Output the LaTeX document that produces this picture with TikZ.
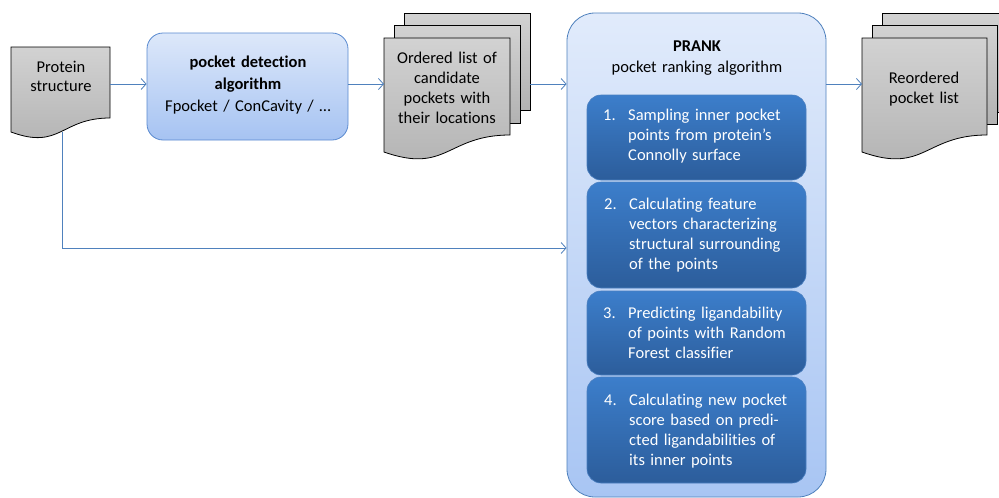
\documentclass[tikz,border=0pt]{standalone}
\usepackage{fontspec}
\setmainfont{Carlito}[RawFeature={-liga;-dlig;-calt;-clig}]
\usetikzlibrary{arrows.meta}
\definecolor{lineblue}{HTML}{4F81BD}
\definecolor{docTop}{HTML}{D2D2D2}
\definecolor{docBot}{HTML}{B2B2B2}
\definecolor{detTop}{HTML}{DDE8FA}
\definecolor{detBot}{HTML}{A6C3F2}
\definecolor{detLine}{HTML}{5A8AD0}
\definecolor{prTop}{HTML}{E1EBFB}
\definecolor{prBot}{HTML}{A8C5F3}
\definecolor{inTop}{HTML}{3C7ECB}
\definecolor{inBot}{HTML}{2C5D9B}
\definecolor{inLine}{HTML}{4A7FC0}
\tikzset{
  conn/.style={draw=lineblue, line width=0.8pt, -{Straight Barb[length=5pt,width=11pt]}},
  docfill/.style={draw=black, line width=0.8pt, top color=docTop, bottom color=docBot},
  txt/.style={inner sep=0pt, text=black, font=\fontsize{16.5}{20}\selectfont},
  wtxt/.style={inner sep=0pt, text=white, font=\fontsize{16.5}{20}\selectfont},
  detbox/.style={draw=detLine, line width=0.8pt, rounded corners=16pt, top color=detTop, bottom color=detBot},
  prbox/.style={draw=lineblue, line width=0.8pt, rounded corners=28pt, top color=prTop, bottom color=prBot},
  inbox/.style={draw=inLine, line width=0.6pt, rounded corners=14pt, top color=inTop, bottom color=inBot, minimum width=219pt},
}
% x1, yt, x2, yr, a
\newcommand{\mydoc}[5]{%
  \path[docfill] (#1,#2) -- (#3,#2) -- (#3,#4)
    .. controls ({(#1+#3)/2},#4) and ({(#1+#3)/2},{#4+2.31*#5}) .. (#1,{#4+#5}) -- cycle;}
\begin{document}
\begin{tikzpicture}[x=1pt,y=-1pt]
\useasboundingbox (0,0) rectangle (999,498);
\fill[white] (0,0) rectangle (999,498);

% Protein structure
\mydoc{11}{47}{110}{118}{14}
\node[txt, text width=90pt, align=center, anchor=base, font=\fontsize{16.5}{19}\selectfont] (protT) at (61,72.5) {Protein\\structure};
\coordinate (protR) at (110,84);
\coordinate (protB) at (62,132);

% pocket detection
\node[detbox, minimum width=201pt, minimum height=107pt] (det) at (247.5,86.5) {};
\node[txt, text width=190pt, align=center, anchor=base, font=\fontsize{16.5}{22.3}\selectfont] (detT) at (248,67)
  {\textbf{pocket detection}\\\textbf{algorithm}\\Fpocket / ConCavity / …};

% Ordered list stack
\path[docfill] (404,13) rectangle (530,110);
\path[docfill] (394,25) rectangle (520,123);
\mydoc{384}{38}{510}{135}{17}
\node[txt, text width=124pt, align=center, anchor=base] (ordT) at (447,63)
  {Ordered list of\\candidate\\pockets with\\their locations};
\coordinate (ordL) at (384,84);
\coordinate (ordR) at (530,84);

% PRANK
\node[prbox, minimum width=259pt, minimum height=484pt] (prank) at (696.5,255) {};
\node[txt, text width=250pt, align=center, anchor=base, font=\fontsize{16.5}{21}\selectfont] (prankT) at (697,51.7)
  {\textbf{PRANK}\\pocket ranking algorithm};

\node[inbox, minimum height=85pt] (s1) at (696.5,137.5) {};
\node[inbox, minimum height=106pt] (s2) at (696.5,235) {};
\node[inbox, minimum height=84pt] (s3) at (696.5,333) {};
\node[inbox, minimum height=106pt] (s4) at (696.5,430) {};

\node[wtxt, anchor=base west] (n1) at (603,120) {1.};
\node[wtxt, anchor=base west, text width=178pt, align=left] (t1) at (628,120)
  {Sampling inner pocket\\points from protein’s\\Connolly surface};
\node[wtxt, anchor=base west] (n2) at (604,209) {2.};
\node[wtxt, anchor=base west, text width=178pt, align=left] (t2) at (629,209)
  {Calculating feature\\vectors characterizing\\structural surrounding\\of the points};
\node[wtxt, anchor=base west] (n3) at (603,318) {3.};
\node[wtxt, anchor=base west, text width=178pt, align=left] (t3) at (628,318)
  {Predicting ligandability\\of points with Random\\Forest classifier};
\node[wtxt, anchor=base west] (n4) at (604,405) {4.};
\node[wtxt, anchor=base west, text width=178pt, align=left] (t4) at (629,405)
  {Calculating new pocket\\score based on predi-\\cted ligandabilities of\\its inner points};

% Reordered stack
\path[docfill] (882,13) rectangle (1007,112);
\path[docfill] (872,25) rectangle (997,124);
\mydoc{862}{38}{987}{135}{17}
\node[txt, text width=120pt, align=center, anchor=base] (reT) at (924,83)
  {Reordered\\pocket list};
\coordinate (reL) at (862,84);

% connectors
\coordinate (ylow) at (0,248);
\draw[conn] (protR) -- (protR -| det.west);
\draw[conn] (protR -| det.east) -- (ordL);
\draw[conn] (ordR) -- (ordR -| prank.west);
\draw[conn] (ordR -| prank.east) -- (reL);
\draw[conn] (protB) |- (ylow -| prank.west);
\end{tikzpicture}
\end{document}
